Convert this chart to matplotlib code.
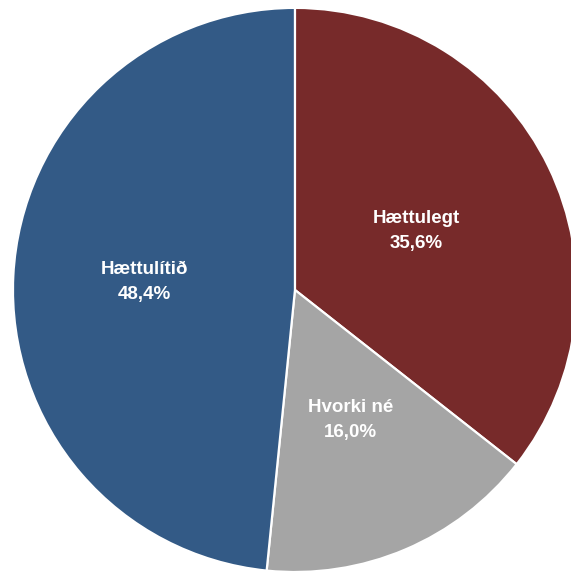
import numpy as np
import matplotlib.pyplot as plt

# Data
categories = ['Hættulegt', 'Hvorki né', 'Hættulítið']
shares = [35.6, 16.0, 48.4]
pct_labels = ['35,6%', '16,0%', '48,4%']
colors = ['#772A2A', '#A5A5A5', '#335A86']
label_dist = [0.48, 0.50, 0.535]

plt.rcParams['font.family'] = ['Liberation Sans', 'DejaVu Sans']

fig = plt.figure(figsize=(5.71, 5.72), dpi=100)
ax = fig.add_axes([0, 0, 1, 1])

wedges, texts = ax.pie(
    shares,
    colors=colors,
    startangle=90,
    counterclock=False,
    labels=[f'{c}\n{p}' for c, p in zip(categories, pct_labels)],
    labeldistance=0.5,
    wedgeprops=dict(edgecolor='white', linewidth=1.6),
    textprops=dict(color='white', fontsize=13.5, fontweight='bold',
                   ha='center', va='center', linespacing=1.6),
)
# Excel-style label placement: each label at its own distance from centre
for w, t, d in zip(wedges, texts, label_dist):
    ang = np.deg2rad((w.theta1 + w.theta2) / 2)
    t.set_position((d * np.cos(ang), d * np.sin(ang)))
    t.set_horizontalalignment('center')
    t.set_verticalalignment('center')

# pie sits slightly off the figure on the right, as in the reference
ax.set_aspect('auto')
ax.set_xlim(-1.046, 0.979)
ax.set_ylim(-1.0, 1.028)
ax.axis('off')

fig.savefig('out.png', dpi=100)
